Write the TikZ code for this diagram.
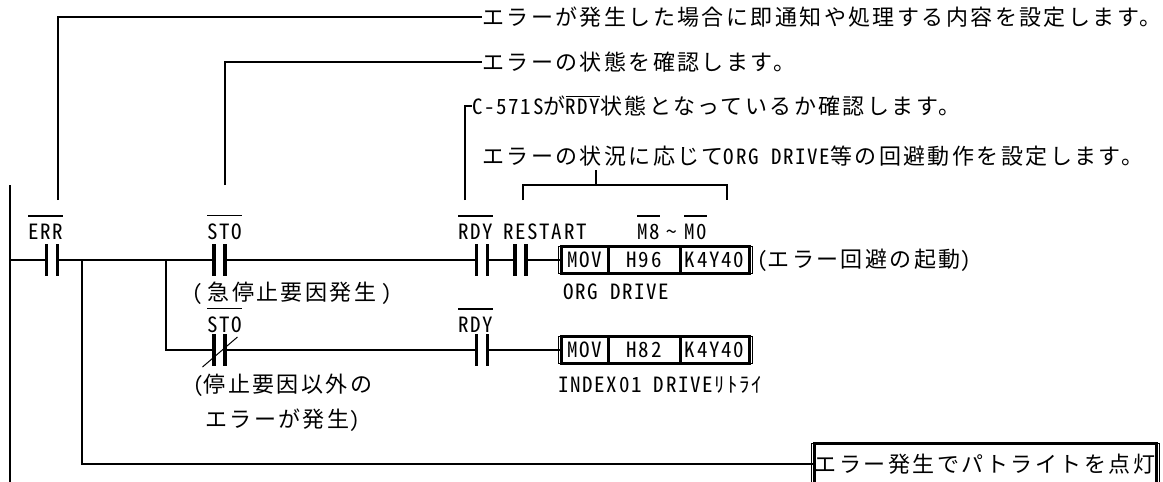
\documentclass[tikz,border=0pt]{standalone}
\usepackage{fontspec}
\setmainfont{Noto Sans CJK JP}[LetterSpace=11]
\newfontfamily\hw{Noto Sans CJK JP}[RawFeature=+hwid,LetterSpace=8]
\usetikzlibrary{positioning}
\newcommand\sz{\fontsize{22}{35}\selectfont}
\newcommand\hsz{\fontsize{21}{35}\selectfont}
\newcommand\ov[2][7pt]{\leavevmode\vbox{\hrule height 1.6pt\kern#1\hbox{#2}}}
\newcommand\brkL[1]{\draw[thinln] ([xshift=1pt]#1.north west) -- ++(-4pt,0) |- ([xshift=1pt]#1.south west);}
\newcommand\brkR[1]{\draw[thinln] ([xshift=-1pt]#1.north east) -- ++(4pt,0) |- ([xshift=-1pt]#1.south east);}
\tikzset{
  wire/.style={line width=1.8pt},
  thinln/.style={line width=1pt},
  bar/.style={line width=3.5pt},
  contact/.style={minimum width=11pt, minimum height=32pt, inner sep=0pt, outer sep=0pt,
    append after command={(\tikzlastnode.north west) edge[bar] (\tikzlastnode.south west)
      (\tikzlastnode.north east) edge[bar] (\tikzlastnode.south east)}},
  ncontact/.style={contact,
    append after command={([shift={(-17pt,-17pt)}]\tikzlastnode.center) edge[thinln] ([shift={(18pt,13pt)}]\tikzlastnode.center)}},
  cell/.style={draw, line width=3pt, minimum height=27pt, inner sep=0pt, outer sep=0pt, font=\hw\hsz},
  txt/.style={inner sep=0pt, anchor=west, font=\sz},
  lbl/.style={inner sep=0pt, anchor=base west, font=\hw\hsz},
}
\begin{document}
\begin{tikzpicture}[x=1pt, y=-1pt]
  \useasboundingbox (0,0) rectangle (1163,482);
  \clip (0,0) rectangle (1163,482);

  % comments above the rungs
  \node[txt] (ttl1) at (482,17) {エラーが発生した場合に即通知や処理する内容を設定します。};
  \node[txt] (ttl2) at (482,62) {エラーの状態を確認します。};
  \node[txt] (ttl3) at (472,106) {{\hw\hsz C-571S}が\ov[2pt]{\hw\hsz RDY}状態となっているか確認します。};
  \node[txt] (ttl4) at (482,156) {エラーの状況に応じて{\hw\hsz ORG DRIVE}等の回避動作を設定します。};

  % contacts
  \node[contact] (err) at (52,260) {};
  \node[contact] (sto) at (219.5,260) {};
  \node[contact] (rdy) at (482,260) {};
  \node[contact] (rst) at (520.5,260) {};
  \node[ncontact] (stob) at (219.5,350) {};
  \node[contact] (rdyb) at (482,350) {};

  \node[lbl] (errl) at (28,239) {\ov{ERR}};
  \node[lbl] (stol) at (207,239) {\ov{STO}};
  \node[lbl] (rdyl) at (458,239) {\ov{RDY}};
  \node[lbl] (rstl) at (503,239) {RESTART};
  \node[lbl] (mrng) at (637,239) {\ov{M8}\kern7pt\textasciitilde\kern7pt\ov{M0}};
  \node[lbl] (stobl) at (207,332) {\ov{STO}};
  \node[lbl] (rdybl) at (458,332) {\ov{RDY}};

  % MOV instructions
  \node[cell, minimum width=47.5pt, anchor=west] (mova) at (561,260) {MOV};
  \node[cell, minimum width=71.5pt, right=0pt of mova] (hexa) {H96};
  \node[cell, minimum width=69pt, right=0pt of hexa] (dsta) {K4Y40};
  \node[cell, minimum width=47.5pt, anchor=west] (movb) at (561,350) {MOV};
  \node[cell, minimum width=71.5pt, right=0pt of movb] (hexb) {H82};
  \node[cell, minimum width=69pt, right=0pt of hexb] (dstb) {K4Y40};
  \brkL{mova} \brkR{dsta}
  \brkL{movb} \brkR{dstb}

  \node[cell, font=\sz, minimum width=342pt, minimum height=41pt, anchor=west] (lamp) at (814,464) {エラー発生でパトライトを点灯};
  \brkL{lamp} \brkR{lamp}

  % notes
  \node[txt] (eff) at (757,260) {{\hw\hsz(}エラー回避の起動{\hw\hsz)}};
  \node[txt] (notea) at (192,293) {{\hw\hsz(}\kern5pt急停止要因発生\kern5pt{\hw\hsz)}};
  \node[txt, align=left] (noteb) at (193,402.5) {{\hw\hsz(}停止要因以外の\\\hspace*{12pt}エラーが発生{\hw\hsz)}};
  \node[txt, font=\hw\hsz] (orgl) at (563,292) {ORG DRIVE};
  \node[txt, font=\hw\hsz] (idxl) at (558,385) {INDEX01 DRIVEﾘﾄﾗｲ};

  % rails and rungs
  \coordinate (railtop) at (10,185);
  \coordinate (railbot) at (10,490);
  \coordinate (r1) at (10,260);
  \coordinate (ja) at (82,260);
  \coordinate (jb) at (166,260);
  \draw[wire] (railtop) -- (railbot);
  \draw[wire] (r1) -- (err.west);
  \draw[wire] (err.east) -- (sto.west);
  \draw[wire] (sto.east) -- (rdy.west);
  \draw[wire] (rdy.east) -- (rst.west);
  \draw[wire] (rst.east) -- (mova.west);
  \draw[wire] (ja) |- (lamp.west);
  \draw[wire] (jb) |- (stob.west);
  \draw[wire] (stob.east) -- (rdyb.west);
  \draw[wire] (rdyb.east) -- (movb.west);

  % leaders
  \coordinate (errtip) at (58,200);
  \coordinate (stotip) at (225,185);
  \coordinate (rdytip) at (465,200);
  \coordinate (brl) at (523,200);
  \coordinate (brr) at (727,200);
  \coordinate (brm) at (596,185);
  \draw[wire] (errtip) |- (ttl1.west);
  \draw[wire] (stotip) |- (ttl2.west);
  \draw[wire] (rdytip) |- (ttl3.west);
  \draw[wire] (brl) -- ++(0,-15) -| (brr);
  \draw[wire] (brm) -- ++(0,-15);
\end{tikzpicture}
\end{document}
